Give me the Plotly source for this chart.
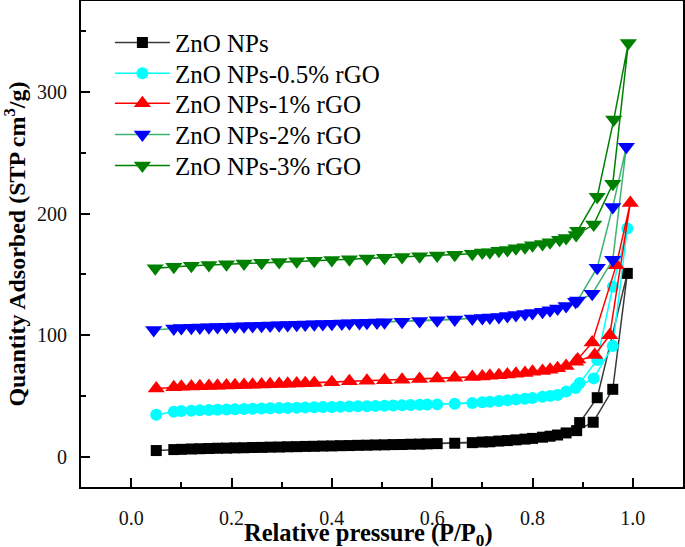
import plotly.graph_objects as go

# ---------------- data ----------------
names = ["ZnO NPs", "ZnO NPs-0.5% rGO", "ZnO NPs-1% rGO", "ZnO NPs-2% rGO", "ZnO NPs-3% rGO"]

# ZnO NPs
zno_ads_x = [0.05, 0.085, 0.12, 0.155, 0.19, 0.225, 0.26, 0.295, 0.33, 0.365, 0.40, 0.435, 0.47, 0.505,
             0.54, 0.575, 0.61, 0.645, 0.68, 0.715, 0.75, 0.785, 0.82, 0.85, 0.888, 0.921, 0.96, 0.989]
zno_ads_y = [5.0, 5.8, 6.3, 6.7, 7.0, 7.3, 7.6, 7.9, 8.2, 8.5, 8.8, 9.1, 9.4, 9.7,
             10.0, 10.3, 10.7, 11.0, 11.5, 12.2, 13.2, 14.4, 16.0, 17.8, 21.4, 28.3, 55.4, 150.8]
zno_des_x = [0.929, 0.894, 0.867, 0.835, 0.80, 0.767, 0.733, 0.70, 0.59, 0.557, 0.522, 0.487, 0.452,
             0.417, 0.382, 0.347, 0.312, 0.277, 0.242, 0.207, 0.172, 0.137, 0.10]
zno_des_y = [48.5, 28.0, 19.5, 16.8, 15.0, 13.8, 12.8, 12.0, 10.5, 10.2, 9.9, 9.6, 9.3,
             9.0, 8.7, 8.4, 8.1, 7.8, 7.5, 7.2, 6.9, 6.5, 6.0]

# ZnO NPs-0.5% rGO
c05_ads_x = [0.05, 0.085, 0.12, 0.155, 0.19, 0.225, 0.26, 0.295, 0.33, 0.365, 0.40, 0.435, 0.47, 0.505,
             0.54, 0.575, 0.61, 0.645, 0.68, 0.715, 0.75, 0.785, 0.82, 0.85, 0.886, 0.922, 0.96, 0.989]
c05_ads_y = [34.5, 37.0, 37.8, 38.3, 38.8, 39.2, 39.6, 40.0, 40.3, 40.6, 40.9, 41.2, 41.5, 41.8,
             42.2, 42.6, 43.0, 43.5, 44.2, 45.2, 46.3, 47.6, 49.2, 50.7, 56.5, 64.4, 91.0, 187.8]
c05_des_x = [0.96, 0.929, 0.894, 0.867, 0.835, 0.80, 0.767, 0.733, 0.70, 0.59, 0.557, 0.522, 0.487,
             0.452, 0.417, 0.382, 0.347, 0.312, 0.277, 0.242, 0.207, 0.172, 0.137, 0.10]
c05_des_y = [139.8, 79.5, 60.5, 53.5, 50.0, 48.3, 47.0, 45.8, 44.8, 42.8, 42.4, 42.0, 41.7,
             41.4, 41.1, 40.8, 40.5, 40.1, 39.8, 39.4, 39.0, 38.6, 38.1, 37.5]

# ZnO NPs-1% rGO
c1_ads_x = [0.05, 0.085, 0.12, 0.155, 0.19, 0.225, 0.26, 0.295, 0.33, 0.365, 0.40, 0.435, 0.47, 0.505,
            0.54, 0.575, 0.61, 0.645, 0.68, 0.715, 0.75, 0.785, 0.82, 0.85, 0.886, 0.924, 0.954, 0.995]
c1_ads_y = [56.0, 57.0, 57.8, 58.2, 58.6, 59.0, 59.4, 59.8, 60.2, 60.6, 61.2, 62.0, 62.4, 62.8,
            63.3, 63.8, 64.3, 64.9, 65.6, 66.5, 67.5, 68.8, 70.5, 72.7, 78.0, 83.6, 100.0, 208.8]
c1_des_x = [0.967, 0.919, 0.89, 0.867, 0.835, 0.80, 0.767, 0.733, 0.70, 0.347, 0.312, 0.277, 0.242,
            0.207, 0.172, 0.137, 0.10]
c1_des_y = [157.6, 94.0, 80.0, 74.5, 71.5, 69.8, 68.3, 67.0, 66.0, 60.4, 60.0, 59.6, 59.2,
            58.8, 58.4, 58.0, 57.6]

# ZnO NPs-2% rGO
c2_ads_x = [0.045, 0.085, 0.12, 0.155, 0.19, 0.225, 0.26, 0.295, 0.33, 0.365, 0.40, 0.435, 0.47, 0.505,
            0.54, 0.575, 0.61, 0.645, 0.68, 0.715, 0.75, 0.785, 0.82, 0.85, 0.886, 0.919, 0.96, 0.987]
c2_ads_y = [104.2, 105.5, 106.0, 106.5, 106.9, 107.3, 107.7, 108.1, 108.5, 108.9, 109.3, 109.7, 110.1, 110.5,
            111.0, 111.6, 112.2, 112.8, 113.6, 114.5, 115.8, 117.3, 119.2, 122.0, 127.4, 134.0, 162.0, 255.0]
c2_des_x = [0.96, 0.929, 0.89, 0.867, 0.835, 0.80, 0.767, 0.733, 0.70, 0.49, 0.455, 0.42, 0.382,
            0.347, 0.312, 0.277, 0.242, 0.207, 0.172, 0.137, 0.10]
c2_des_y = [205.5, 155.5, 128.5, 124.0, 120.5, 118.3, 116.5, 115.0, 114.0, 110.3, 109.9, 109.5, 109.1,
            108.7, 108.3, 107.9, 107.5, 107.1, 106.7, 106.3, 105.8]

# ZnO NPs-3% rGO
c3_ads_x = [0.048, 0.085, 0.12, 0.155, 0.19, 0.225, 0.26, 0.295, 0.33, 0.365, 0.40, 0.435, 0.47, 0.505,
            0.54, 0.575, 0.61, 0.645, 0.68, 0.715, 0.75, 0.785, 0.82, 0.854, 0.887, 0.922, 0.96, 0.991]
c3_ads_y = [155.0, 156.2, 157.0, 157.7, 158.4, 159.0, 159.5, 160.1, 160.7, 161.3, 161.9, 162.5, 163.1, 163.7,
            164.3, 164.9, 165.5, 166.1, 167.0, 168.3, 170.0, 172.3, 175.0, 178.5, 182.5, 191.0, 224.5, 340.4]
c3_des_x = [0.962, 0.929, 0.89, 0.867, 0.835, 0.80, 0.767, 0.733, 0.70]
c3_des_y = [277.4, 213.8, 186.0, 180.0, 176.5, 174.0, 171.5, 169.5, 168.0]

x_title = "<b>Relative pressure (P/P<sub>0</sub>)</b>"
y_title = "<b>Quantity Adsorbed (STP cm<sup>3</sup>/g)</b>"

line_colors = ["#3a3a3a", "#00ffff", "#ff0000", "#3cb371", "#008000"]
marker_colors = ["#000000", "#00ffff", "#ff0000", "#0000ff", "#008000"]
symbols = ["square", "circle", "triangle-up", "triangle-down", "triangle-down"]
sizes = [11, 12, 15, 15, 15]

series = [
    (zno_ads_x + zno_des_x, zno_ads_y + zno_des_y),
    (c05_ads_x + c05_des_x, c05_ads_y + c05_des_y),
    (c1_ads_x + c1_des_x, c1_ads_y + c1_des_y),
    (c2_ads_x + c2_des_x, c2_ads_y + c2_des_y),
    (c3_ads_x + c3_des_x, c3_ads_y + c3_des_y),
]

FONT = "Liberation Serif, Times New Roman, serif"

legend_ids = ["legend", "legend2", "legend3", "legend4", "legend5"]
legend_y = [0.914, 0.851, 0.789, 0.725, 0.661]

fig = go.Figure()
for i, (xs, ys) in enumerate(series):
    fig.add_trace(go.Scatter(
        x=xs, y=ys, mode="lines+markers", name=names[i], legend=legend_ids[i],
        line=dict(color=line_colors[i], width=1.5),
        marker=dict(symbol=symbols[i], color=marker_colors[i], size=sizes[i], line=dict(width=0)),
    ))

axis_common = dict(
    showline=True, linecolor="black", linewidth=2, mirror=True,
    ticks="inside", tickcolor="black", tickwidth=1.5, ticklen=9,
    showgrid=False, zeroline=False, automargin=False,
    tickfont=dict(family=FONT, size=20, color="#111"),
)

fig.update_xaxes(
    range=[-0.1, 1.1], tick0=0, dtick=0.2, tickformat=".1f",
    minor=dict(ticks="inside", dtick=0.1, ticklen=5, tickwidth=1.5, tickcolor="black"),
    ticklabelstandoff=12,
    **axis_common,
)
fig.update_yaxes(
    range=[-25, 375], tick0=0, dtick=100,
    minor=dict(ticks="inside", dtick=50, ticklen=5, tickwidth=1.5, tickcolor="black"),
    ticklabelstandoff=8,
    title=dict(text=y_title, font=dict(family=FONT, size=24, color="black"), standoff=8),
    **axis_common,
)

# x-axis title as a paper-anchored annotation so it can sit low in the margin
fig.add_annotation(
    text=x_title, xref="paper", yref="paper", x=0.478, y=0, xanchor="center", yanchor="middle",
    yshift=-47, showarrow=False, font=dict(family=FONT, size=24.5, color="black"),
)

legend_style = dict(
    x=0.048, xanchor="left", yanchor="middle",
    bgcolor="rgba(0,0,0,0)", borderwidth=0,
    font=dict(family=FONT, size=25, color="black"),
    itemwidth=55,
)
layout_legends = {lid: dict(y=legend_y[i], **legend_style) for i, lid in enumerate(legend_ids)}

fig.update_layout(
    width=685, height=547,
    margin=dict(l=81, r=2, t=1, b=60, autoexpand=False),
    plot_bgcolor="white", paper_bgcolor="white",
    font=dict(family=FONT, color="black"),
    showlegend=True,
    **layout_legends,
)

fig.write_html("out.html", config={"displayModeBar": False},
               post_script="document.body.style.margin='0px';")
